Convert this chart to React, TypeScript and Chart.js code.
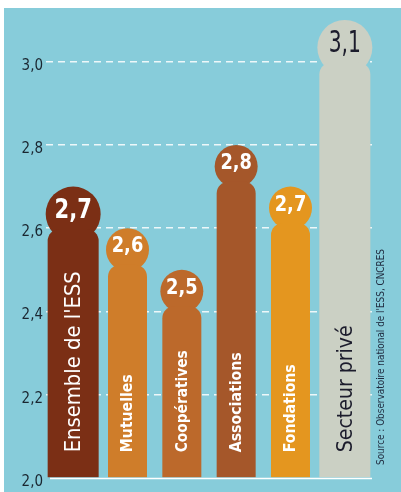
import React, { useEffect, useRef } from 'react';
import { Chart, registerables } from 'chart.js';

Chart.register(...registerables);

// ---- data ----
const CATEGORIES = ["Ensemble de l'ESS", 'Mutuelles', 'Coopératives', 'Associations', 'Fondations', 'Secteur privé'];
const VALUES = [2.7, 2.6, 2.5, 2.8, 2.7, 3.1];
// aggregate groups (whole ESS, private sector) are shown as wider columns
const IS_AGGREGATE = [true, false, false, false, false, true];
const Y_TICKS = [2.0, 2.2, 2.4, 2.6, 2.8, 3.0];
const Y_MIN = 2.0;
const Y_MAX = 3.1;
const SOURCE = "Source : Observatoire national de l'ESS, CNCRES";

// ---- styles ----
const BG = '#87CCDA';
const BAR_COLORS = ['#7B2F15', '#CF7D2A', '#BC692B', '#A5572A', '#E4961F', '#CBD0C4'];
const TEXT_COLORS = ['#ffffff', '#ffffff', '#ffffff', '#ffffff', '#ffffff', '#1c1c2c'];
const FONT = '"DejaVu Sans Condensed", "Liberation Sans Narrow", "DejaVu Sans", sans-serif';
const CAT_FONT = [
  { size: 21, weight: 'normal', len: 181 },
  { size: 15, weight: 'bold', len: 78 },
  { size: 15, weight: 'bold', len: 102 },
  { size: 15, weight: 'bold', len: 100 },
  { size: 15, weight: 'bold', len: 88 },
  { size: 22, weight: 'normal', len: 127 },
];
const VAL_FONT = [
  { size: 26, sx: 0.9, weight: 'bold' },
  { size: 22, sx: 0.9, weight: 'bold' },
  { size: 22, sx: 0.9, weight: 'bold' },
  { size: 22, sx: 0.9, weight: 'bold' },
  { size: 22, sx: 0.9, weight: 'bold' },
  { size: 30, sx: 0.75, weight: 'normal' },
];

const fmt = (v: number) => v.toFixed(1).replace('.', ',');

const pawnPlugin = {
  id: 'pawns',
  afterDatasetsDraw(chart: any) {
    const ctx: CanvasRenderingContext2D = chart.ctx;
    const area = chart.chartArea;
    chart.data.datasets.forEach((ds: any, di: number) => {
      const meta = chart.getDatasetMeta(di);
      meta.data.forEach((el: any, i: number) => {
        if (ds.data[i] == null) return;
        const { x, y, base, width } = el.getProps(['x', 'y', 'base', 'width'], true);
        const r = width / 2 + 2;
        const cy = y + r;
        const top = cy + 15;
        ctx.save();
        ctx.fillStyle = BAR_COLORS[i];
        ctx.beginPath();
        ctx.arc(x, cy, r, 0, Math.PI * 2);
        ctx.fill();
        ctx.beginPath();
        (ctx as any).roundRect(x - width / 2, top, width, base - top, [12, 12, 0, 0]);
        ctx.fill();

        // value label
        const vf = VAL_FONT[i];
        ctx.save();
        ctx.translate(x, cy - 3);
        ctx.scale(vf.sx, 1);
        ctx.font = `${vf.weight} ${vf.size}px ${FONT}`;
        ctx.fillStyle = TEXT_COLORS[i];
        ctx.textAlign = 'center';
        ctx.textBaseline = 'middle';
        ctx.fillText(fmt(VALUES[i]), 0, 0);
        ctx.restore();

        // category label (rotated, inside the column)
        const cf = CAT_FONT[i];
        ctx.save();
        ctx.translate(x + 1, base - 25);
        ctx.rotate(-Math.PI / 2);
        ctx.font = `${cf.weight} ${cf.size}px ${FONT}`;
        const w = ctx.measureText(CATEGORIES[i]).width;
        ctx.scale(cf.len / w, 1);
        ctx.fillStyle = TEXT_COLORS[i];
        ctx.textAlign = 'left';
        ctx.textBaseline = 'middle';
        ctx.fillText(CATEGORIES[i], 0, 0);
        ctx.restore();
        ctx.restore();
      });
    });

    // baseline
    ctx.save();
    ctx.strokeStyle = '#ffffff';
    ctx.lineWidth = 1.5;
    ctx.beginPath();
    ctx.moveTo(area.left + 4, area.bottom + 0.5);
    ctx.lineTo(area.right, area.bottom + 0.5);
    ctx.stroke();
    ctx.restore();

    // source note
    ctx.save();
    ctx.translate(area.right + 9, area.bottom - 13);
    ctx.rotate(-Math.PI / 2);
    ctx.font = `11px ${FONT}`;
    const sw = ctx.measureText(SOURCE).width;
    ctx.scale(216 / sw, 1);
    ctx.fillStyle = '#1f2b3f';
    ctx.textAlign = 'left';
    ctx.textBaseline = 'middle';
    ctx.fillText(SOURCE, 0, 0);
    ctx.restore();
  },
};

export default function App() {
  const ref = useRef<HTMLCanvasElement | null>(null);

  useEffect(() => {
    if (!ref.current) return;
    const chart = new Chart(ref.current, {
      type: 'bar',
      data: {
        labels: CATEGORIES,
        datasets: [
          {
            label: 'agrégats',
            data: VALUES.map((v, i) => (IS_AGGREGATE[i] ? v : null)),
            backgroundColor: 'rgba(0,0,0,0)',
            barThickness: 51,
            skipNull: true,
            base: Y_MIN,
          } as any,
          {
            label: 'familles',
            data: VALUES.map((v, i) => (IS_AGGREGATE[i] ? null : v)),
            backgroundColor: 'rgba(0,0,0,0)',
            barThickness: 39,
            skipNull: true,
            base: Y_MIN,
          } as any,
        ],
      },
      options: {
        responsive: false,
        animation: false,
        devicePixelRatio: 1,
        layout: { padding: { top: 8, right: 29, left: 0, bottom: 0 } },
        plugins: { legend: { display: false }, tooltip: { enabled: false } },
        scales: {
          x: {
            grid: { display: false, drawTicks: false },
            ticks: { display: false },
            border: { display: false },
            afterFit: (s: any) => {
              s.height = 14;
            },
          },
          y: {
            min: Y_MIN,
            max: Y_MAX,
            afterBuildTicks: (s: any) => {
              s.ticks = Y_TICKS.map((v) => ({ value: v }));
            },
            afterFit: (s: any) => {
              s.width = 42;
            },
            grid: {
              drawTicks: false,
              lineWidth: 1.5,
              color: (c: any) =>
                c.tick && Math.abs(c.tick.value - Y_MIN) < 1e-6 ? 'rgba(0,0,0,0)' : 'rgba(255,255,255,0.85)',
            },
            border: { display: false, dash: [7, 5] },
            ticks: {
              padding: 3,
              labelOffset: 4,
              color: '#1a2630',
              font: { family: FONT, size: 15 },
              callback: (v: any) => fmt(Number(v)),
            },
          },
        },
      },
      plugins: [pawnPlugin],
    });
    return () => chart.destroy();
  }, []);

  return (
    <div style={{ position: 'absolute', left: 0, top: 0, width: 401, height: 492, background: '#ffffff', overflow: 'hidden' }}>
      <canvas
        ref={ref}
        width={397}
        height={484}
        style={{ position: 'absolute', left: 4, top: 8, width: 397, height: 484, background: BG }}
      />
    </div>
  );
}
